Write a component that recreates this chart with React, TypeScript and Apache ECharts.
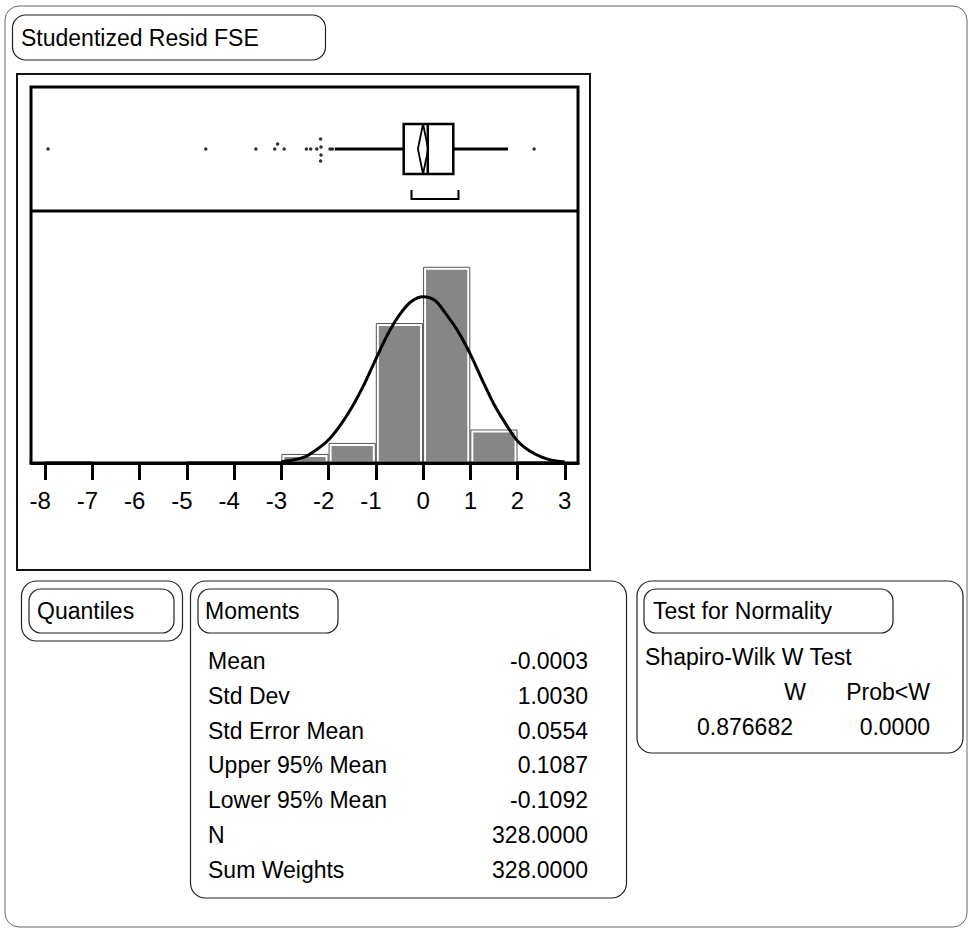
import React, { useEffect, useRef } from "react";
import * as echarts from "echarts";

// ---------- data ----------
const tickValues = [-8, -7, -6, -5, -4, -3, -2, -1, 0, 1, 2, 3];
const binStarts = [-8, -7, -6, -5, -4, -3, -2, -1, 0, 1, 2];
const binEnds = [-7, -6, -5, -4, -3, -2, -1, 0, 1, 2, 3];
const binCounts = [1, 0, 0, 1, 1, 7, 16, 114, 160, 27, 1];

const curveX = [-3.0, -2.75, -2.5, -2.25, -2.0, -1.75, -1.5, -1.25, -1.0, -0.75, -0.5, -0.25, 0, 0.25, 0.5, 0.75, 1.0, 1.25, 1.5, 1.75, 2.0, 2.25, 2.5, 2.75, 3.0];
const curveY = [1, 2.5, 5, 11, 19, 31, 46, 64, 85, 105, 121, 132, 136, 133, 121, 107, 89, 68, 48, 32, 18, 10, 5, 2, 0.8];

// box plot: whisker low, Q1, median, Q3, whisker high
const boxStats = [-1.87, -0.41, 0.1, 0.64, 1.8];
const shortestHalf = [-0.245, 0.75];
// outliers: value, vertical jitter
const outlierX = [-7.94, -4.6, -3.54, -3.14, -3.08, -2.94, -2.47, -2.38, -2.25, -2.17, -2.16, -2.16, -2.17, -1.97, -1.92, 2.35];
const outlierJ = [0, 0, 0, 0, 5, 0, 0, 0, 0, 10, 2, -6, -12, 0, 0, 0];

const momentLabels = ["Mean", "Std Dev", "Std Error Mean", "Upper 95% Mean", "Lower 95% Mean", "N", "Sum Weights"];
const momentValues = [-0.0003, 1.003, 0.0554, 0.1087, -0.1092, 328, 328];

const testTitle = "Shapiro-Wilk W Test";
const testHeaders = ["W", "Prob<W"];
const testValues = ["0.876682", "0.0000"];

const FONT = '"Liberation Sans", Arial, Helvetica, sans-serif';

export default function App() {
  const ref = useRef<HTMLDivElement>(null);

  useEffect(() => {
    const chart = echarts.init(ref.current!, null, { renderer: "svg" });
    const mean = momentValues[0];
    const upper95 = momentValues[3];
    const lower95 = momentValues[4];

    const txt = (text: string, x: number, y: number, align = "left", size = 23) => ({
      type: "text",
      z: 200,
      style: {
        text,
        x,
        y,
        fill: "#000",
        font: `${size}px ${FONT}`,
        align,
        textAlign: align,
        verticalAlign: "middle",
        textVerticalAlign: "middle",
      },
    });
    const rrect = (x: number, y: number, w: number, h: number, r: number, stroke = "#222", lw = 1.2) => ({
      type: "rect",
      z: 150,
      shape: { x, y, width: w, height: h, r },
      style: { fill: "none", stroke, lineWidth: lw },
    });

    const graphics: any[] = [
      rrect(5, 6, 962, 921, 14, "#666", 1),
      rrect(12.5, 15, 313, 45, 13),
      txt("Studentized Resid FSE", 21, 38),
      // plot frames
      { type: "rect", z: 150, shape: { x: 17, y: 74, width: 573, height: 496 }, style: { fill: "none", stroke: "#111", lineWidth: 2 } },
      { type: "rect", z: 150, shape: { x: 31, y: 87, width: 547, height: 376 }, style: { fill: "none", stroke: "#000", lineWidth: 3 } },
      { type: "line", z: 150, shape: { x1: 31, y1: 211, x2: 578, y2: 211 }, style: { stroke: "#000", lineWidth: 3 } },
      // Quantiles
      rrect(21.5, 581, 161, 60, 15),
      rrect(29, 589, 145, 44, 12),
      txt("Quantiles", 37, 611),
      // Moments
      rrect(190.5, 581, 436, 317, 15),
      rrect(198, 589, 140, 44, 12),
      txt("Moments", 205, 611),
      // Test for normality
      rrect(637, 581, 326, 172, 15),
      rrect(644, 589, 249, 44, 12),
      txt("Test for Normality", 653, 611),
      txt(testTitle, 645, 657),
      txt(testHeaders[0], 806, 692, "right"),
      txt(testHeaders[1], 930, 692, "right"),
      txt(testValues[0], 793, 727, "right"),
      txt(testValues[1], 930, 727, "right"),
    ];
    momentLabels.forEach((l, i) => {
      const y = 661 + 34.8 * i;
      graphics.push(txt(l, 208, y));
      graphics.push(txt(momentValues[i].toFixed(4), 588, y, "right"));
    });

    const option: any = {
      animation: false,
      backgroundColor: "#fff",
      grid: [
        { left: 31, top: 87, width: 547, height: 124 },
        { left: 31, top: 211, width: 547, height: 252 },
      ],
      xAxis: [
        { type: "value", gridIndex: 0, min: -8.3, max: 3.28, show: false },
        {
          type: "value",
          gridIndex: 1,
          min: -8.3,
          max: 3.28,
          splitLine: { show: false },
          axisLine: { show: true, onZero: false, lineStyle: { color: "#000", width: 3 } },
          axisTick: { show: true, customValues: tickValues, length: 17, lineStyle: { color: "#000", width: 3 } },
          axisLabel: {
            customValues: tickValues,
            margin: 25,
            color: "#000",
            fontSize: 24,
            fontFamily: FONT,
            formatter: (v: number) => (v < 0 ? `{n|${v}}` : `{p|${v}}`),
            rich: {
              n: { fontSize: 24, fontFamily: FONT, color: "#000", padding: [0, 10, 0, 0] },
              p: { fontSize: 24, fontFamily: FONT, color: "#000" },
            },
          },
        },
      ],
      yAxis: [
        { type: "value", gridIndex: 0, min: -62, max: 62, show: false },
        { type: "value", gridIndex: 1, min: 0, max: 206, show: false },
      ],
      series: [
        {
          type: "custom",
          xAxisIndex: 1,
          yAxisIndex: 1,
          encode: { x: [0, 1], y: 2 },
          data: binStarts.map((s, i) => [s, binEnds[i], binCounts[i]]),
          renderItem: (params: any, api: any) => {
            const n = api.value(2);
            if (!n) return null;
            const p0 = api.coord([api.value(0), n]);
            const p1 = api.coord([api.value(1), 0]);
            const w = p1[0] - p0[0];
            const h = p1[1] - p0[1];
            const children: any[] = [
              { type: "rect", shape: { x: p0[0] + 0.5, y: p0[1], width: w - 1, height: h }, style: { fill: "#fff", stroke: "#555", lineWidth: 1 } },
            ];
            if (h > 5) {
              children.push({ type: "rect", shape: { x: p0[0] + 3, y: p0[1] + 2.5, width: w - 6, height: h - 4 }, style: { fill: "#868686" } });
            }
            return { type: "group", children };
          },
          z: 2,
        },
        {
          type: "line",
          xAxisIndex: 1,
          yAxisIndex: 1,
          data: curveX.map((x, i) => [x, curveY[i]]),
          symbol: "none",
          smooth: 0.3,
          lineStyle: { color: "#000", width: 3 },
          z: 5,
        },
        {
          type: "custom",
          xAxisIndex: 0,
          yAxisIndex: 0,
          encode: { x: [0, 1, 2, 3, 4], y: 5 },
          data: [[...boxStats, 0]],
          renderItem: (params: any, api: any) => {
            const X = (v: number) => api.coord([v, 0])[0];
            const cy = api.coord([0, 0])[1];
            const hh = 25;
            const lo = X(api.value(0)), q1 = X(api.value(1)), med = X(api.value(2)), q3 = X(api.value(3)), hi = X(api.value(4));
            const s0 = X(shortestHalf[0]), s1 = X(shortestHalf[1]);
            return {
              type: "group",
              children: [
                { type: "line", shape: { x1: lo, y1: cy, x2: q1, y2: cy }, style: { stroke: "#000", lineWidth: 3 } },
                { type: "line", shape: { x1: q3, y1: cy, x2: hi, y2: cy }, style: { stroke: "#000", lineWidth: 3 } },
                { type: "rect", shape: { x: q1, y: cy - hh, width: q3 - q1, height: 2 * hh }, style: { fill: "none", stroke: "#000", lineWidth: 2.5 } },
                { type: "line", shape: { x1: med, y1: cy - hh, x2: med, y2: cy + hh }, style: { stroke: "#000", lineWidth: 2.5 } },
                {
                  type: "polygon",
                  shape: { points: [[X(lower95), cy], [X(mean), cy - hh], [X(upper95), cy], [X(mean), cy + hh]] },
                  style: { fill: "none", stroke: "#000", lineWidth: 1.8 },
                },
                {
                  type: "polyline",
                  shape: { points: [[s0, cy + 41], [s0, cy + 50], [s1, cy + 50], [s1, cy + 41]] },
                  style: { fill: "none", stroke: "#000", lineWidth: 2 },
                },
              ],
            };
          },
          z: 5,
        },
        {
          type: "scatter",
          xAxisIndex: 0,
          yAxisIndex: 0,
          data: outlierX.map((x, i) => [x, outlierJ[i]]),
          symbolSize: 3.5,
          itemStyle: { color: "#000" },
          z: 6,
        },
      ],
      graphic: { elements: graphics },
    };
    chart.setOption(option);
    return () => chart.dispose();
  }, []);

  return <div ref={ref} style={{ position: "absolute", left: 0, top: 0, width: 972, height: 934 }} />;
}
